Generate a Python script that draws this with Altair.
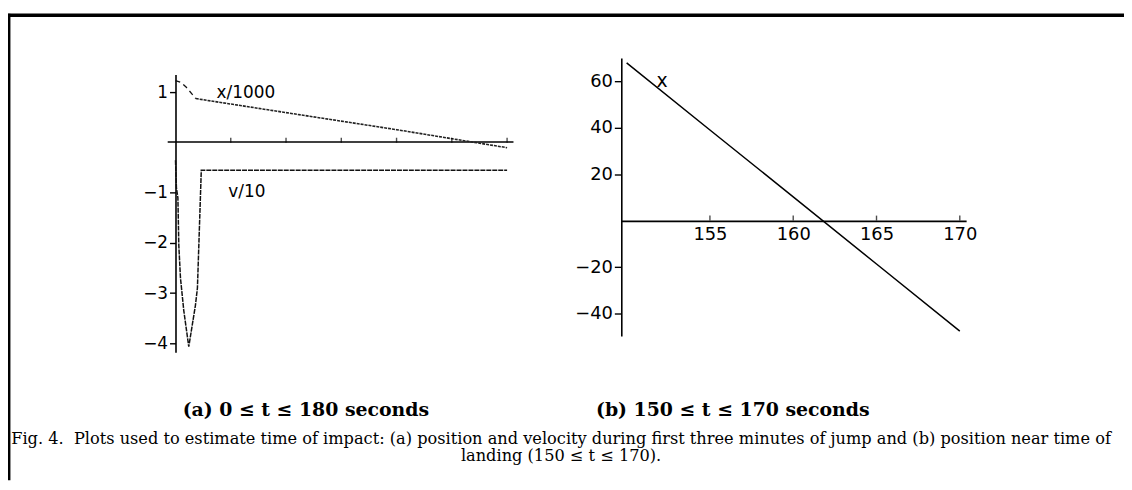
import altair as alt
import pandas as pd

# ---------------- data ----------------
# panel (a): position x/1000, first part (free fall, dashed)
t_x_start = [0, 3, 6, 9, 11]
x_start = [1.24, 1.20, 1.10, 0.97, 0.88]
# panel (a): position x/1000, after parachute opens
t_x_main = [11, 60, 120, 180]
x_main = [0.88, 0.60, 0.26, -0.10]
# panel (a): velocity v/10
t_v = [0, 0.5, 1.3, 1.8, 2.7, 4.5, 7.2, 10.8, 11.9, 12.8, 14.0, 180]
v_v = [-0.35, -0.9, -1.1, -2.05, -2.7, -3.35, -4.07, -3.25, -2.9, -1.9, -0.55, -0.55]
# panel (b): position x near landing
t_b = [150, 155, 160, 165, 170]
x_b = [67.9, 39.0, 10.2, -18.7, -47.6]

a_xticks = [30, 60, 90, 120, 150, 180]
a_ylabels = [1, -1, -2, -3, -4]
b_xticks = [155, 160, 165, 170]
b_ylabels = [60, 40, 20, -20, -40]

cap_a = "(a) 0 ≤ t ≤ 180 seconds"
cap_b = "(b) 150 ≤ t ≤ 170 seconds"
fig_line1 = ("Fig. 4.\u00a0 Plots used to estimate time of impact: (a) position and velocity during "
             "first three minutes of jump and (b) position near time of")
fig_line2 = "landing (150 ≤ t ≤ 170)."

# ---------------- layout ----------------
W, H = 1124, 474
AXFONT = "DejaVu Sans"

def axis_common(**kw):
    base = dict(title=None, grid=False, domainColor="black", domainWidth=1.6,
                tickColor="black", tickWidth=1.4, labelColor="black",
                labelFont=AXFONT, labelFontSize=17)
    base.update(kw)
    return alt.Axis(**base)

# panel (a) scales
ax_x = alt.Scale(domain=[-4.5, 183.2], range=[160.35, 508.6], nice=False, zero=False)
ax_y = alt.Scale(domain=[-4.18, 1.36], range=[345, 65.3], nice=False, zero=False)
a_xaxis = axis_common(orient="bottom", offset=-341.3, labels=False, ticks=False,
                      values=a_xticks)
a_yaxis = axis_common(orient="left", offset=-168.7, values=a_ylabels, tickSize=6,
                      labelPadding=2)

def enc_a(ch):
    return ch.encode(
        x=alt.X("t:Q", scale=ax_x, axis=a_xaxis),
        y=alt.Y("y:Q", scale=ax_y, axis=a_yaxis),
    )

df_xs = pd.DataFrame({"t": t_x_start, "y": x_start})
df_xm = pd.DataFrame({"t": t_x_main, "y": x_main})
df_v = pd.DataFrame({"t": t_v, "y": v_v})
df_at = pd.DataFrame({"t": a_xticks, "y": [0] * len(a_xticks)})
df_alab = pd.DataFrame({"t": [22.3, 28.7], "y": [0.99, -0.99], "lab": ["x/1000", "v/10"]})

line_xs = enc_a(alt.Chart(df_xs).mark_line(color="#111", strokeWidth=1.3, strokeDash=[5, 4]))
line_xm = enc_a(alt.Chart(df_xm).mark_line(color="#222", strokeWidth=1.6, strokeDash=[3, 1]))
line_v = enc_a(alt.Chart(df_v).mark_line(color="#111", strokeWidth=1.5, strokeDash=[5, 1]))
ticks_a = enc_a(alt.Chart(df_at).mark_tick(orient="vertical", color="black", size=5,
                                           thickness=1.4, yOffset=-2.5))
labs_a = enc_a(alt.Chart(df_alab).mark_text(align="left", baseline="middle", font=AXFONT,
                                            fontSize=17, color="black")).encode(text="lab:N")

panel_a = alt.layer(line_xs, line_xm, line_v, ticks_a, labs_a)

# panel (b) scales
bx_x = alt.Scale(domain=[149.68, 170.38], range=[617.7, 965.0], nice=False, zero=False)
bx_y = alt.Scale(domain=[-49.7, 70], range=[328.7, 48.6], nice=False, zero=False)
b_xaxis = axis_common(orient="bottom", offset=-261.3, ticks=False, values=b_xticks,
                      labelPadding=5, labelFontSize=18)
b_yaxis = axis_common(orient="left", offset=-617.7, values=b_ylabels, tickSize=7,
                      labelPadding=2, labelFontSize=18)

def enc_b(ch):
    return ch.encode(
        x=alt.X("t:Q", scale=bx_x, axis=b_xaxis),
        y=alt.Y("y:Q", scale=bx_y, axis=b_yaxis),
    )

df_b = pd.DataFrame({"t": t_b, "y": x_b})
df_bt = pd.DataFrame({"t": b_xticks, "y": [0] * len(b_xticks)})
df_blab = pd.DataFrame({"t": [151.8], "y": [60], "lab": ["x"]})

line_b = enc_b(alt.Chart(df_b).mark_line(color="black", strokeWidth=1.5))
ticks_b = enc_b(alt.Chart(df_bt).mark_tick(orient="vertical", color="black", size=5,
                                           thickness=1.4, yOffset=-2.5))
labs_b = enc_b(alt.Chart(df_blab).mark_text(align="left", baseline="middle", font=AXFONT,
                                            fontSize=19, color="black")).encode(text="lab:N")

panel_b = alt.layer(line_b, ticks_b, labs_b)

# ---------------- captions and frame ----------------
def text_at(s, x, y, font, size, weight="normal", align="center"):
    return alt.Chart(pd.DataFrame({"s": [s]})).mark_text(
        font=font, fontSize=size, fontWeight=weight, color="black", align=align,
        baseline="middle"
    ).encode(text="s:N", x=alt.value(x), y=alt.value(y))

one = pd.DataFrame({"k": [0]})
frame_top = alt.Chart(one).mark_rule(color="black", strokeWidth=3.5).encode(
    x=alt.value(-2), x2=alt.value(W), y=alt.value(5.7))
frame_left = alt.Chart(one).mark_rule(color="black", strokeWidth=3.5).encode(
    x=alt.value(0.7), y=alt.value(4), y2=alt.value(H))

captions = [
    text_at(cap_a, 300, 403, "DejaVu Serif", 19, "bold"),
    text_at(cap_b, 730, 403, "DejaVu Serif", 19, "bold"),
    text_at(fig_line1, 557, 432, "DejaVu Serif", 16.3),
    text_at(fig_line2, 557, 450, "DejaVu Serif", 16.3),
]

chart = alt.layer(panel_a, panel_b, frame_top, frame_left, *captions).resolve_scale(
    x="independent", y="independent"
).properties(
    width=W, height=H, padding=0, autosize=alt.AutoSizeParams(type="none"),
    background="white",
).configure_view(stroke=None)

chart.save("out.html", embed_options={"renderer": "svg", "actions": False})
